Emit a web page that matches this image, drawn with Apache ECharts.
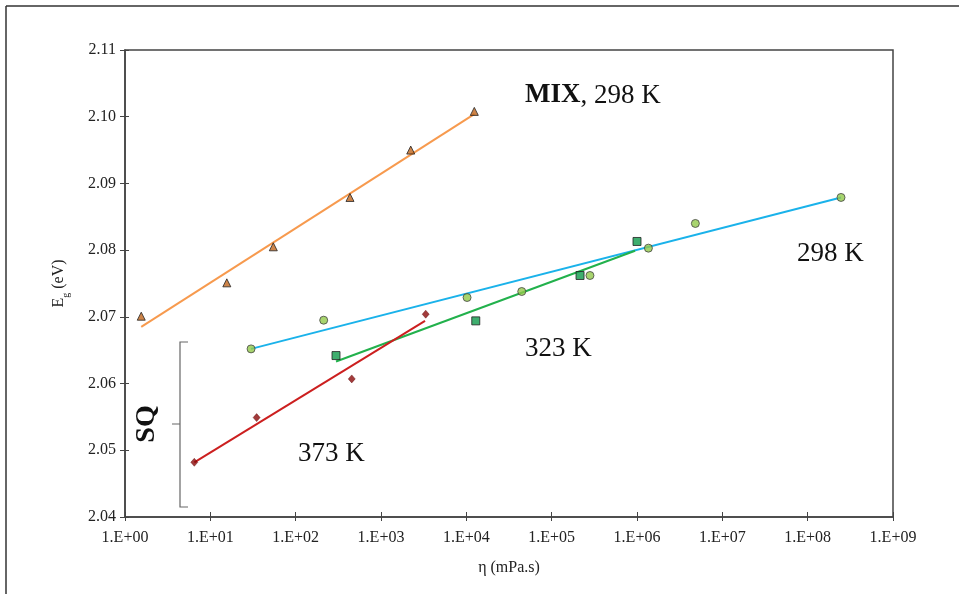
<!DOCTYPE html>
<html>
<head>
<meta charset="utf-8">
<script src="https://cdn.jsdelivr.net/npm/echarts/dist/echarts.min.js"></script>
<style>
html,body{margin:0;padding:0;background:#fff;}
#c{width:959px;height:594px;}
</style>
</head>
<body>
<div id="c"></div>
<script>
// ---- data ----
var mixX = [1.55, 15.6, 54.7, 433, 2230, 12400];
var mixY = [2.0701, 2.0751, 2.0805, 2.0879, 2.0950, 2.1008];
var mixFitX = [1.55, 12400];
var mixFitY = [2.0685, 2.1004];

var sq298X = [30, 213, 10200, 44600, 281000, 1.36e6, 4.83e6, 2.46e8];
var sq298Y = [2.0652, 2.0695, 2.0729, 2.0738, 2.0762, 2.0803, 2.0840, 2.0879];
var sq298FitX = [30, 2.46e8];
var sq298FitY = [2.0652, 2.0879];

var sq323X = [297, 12900, 215000, 1.0e6];
var sq323Y = [2.0642, 2.0694, 2.0762, 2.0813];
var sq323FitX = [297, 9.5e5];
var sq323FitY = [2.0633, 2.0799];

var sq373X = [6.49, 34.9, 454, 3340];
var sq373Y = [2.0482, 2.0549, 2.0607, 2.0704];
var sq373FitX = [6.49, 3280];
var sq373FitY = [2.0482, 2.0694];

var xTickExponents = [0, 1, 2, 3, 4, 5, 6, 7, 8, 9];
var yTicks = [2.04, 2.05, 2.06, 2.07, 2.08, 2.09, 2.10, 2.11];

function pairs(xs, ys) { return xs.map(function (x, i) { return [x, ys[i]]; }); }

var FONT = '"Liberation Serif", "DejaVu Serif", serif';
var chart = echarts.init(document.getElementById('c'));

var axisCommonX = {
  type: 'log', logBase: 10, min: 1, max: 1e9,
  splitLine: { show: false }, minorTick: { show: false }
};
var axisCommonY = {
  type: 'value', min: yTicks[0], max: yTicks[yTicks.length - 1], interval: 0.01,
  splitLine: { show: false }
};

var option = {
  backgroundColor: '#ffffff',
  animation: false,
  grid: { left: 125, right: 66, top: 50, bottom: 77, show: true, borderColor: '#444', borderWidth: 1.5, backgroundColor: '#fff' },
  xAxis: [
    Object.assign({}, axisCommonX, {
      name: 'η (mPa.s)', nameLocation: 'middle', nameGap: 43,
      nameTextStyle: { fontFamily: FONT, fontSize: 16, color: '#222' },
      axisLine: { show: true, lineStyle: { color: '#444', width: 1.5 } },
      axisTick: { show: true, inside: false, length: 4, lineStyle: { color: '#444' } },
      axisLabel: {
        fontFamily: FONT, fontSize: 16, color: '#222', margin: 13,
        formatter: function (v) {
          var e = Math.round(Math.log10(v));
          if (xTickExponents.indexOf(e) < 0) return '';
          return '1.E+' + (e < 10 ? '0' : '') + e;
        }
      }
    }),
    Object.assign({}, axisCommonX, {
      position: 'bottom',
      axisLine: { show: false },
      axisTick: { show: true, inside: true, length: 5, lineStyle: { color: '#444' } },
      axisLabel: { show: false }
    })
  ],
  yAxis: [
    Object.assign({}, axisCommonY, {
      name: '{a|E}{b|g}{a| (eV)}', nameLocation: 'middle', nameGap: 58, nameRotate: 90,
      nameTextStyle: {
        rich: {
          a: { fontFamily: FONT, fontSize: 16, color: '#222' },
          b: { fontFamily: FONT, fontSize: 10, color: '#222', verticalAlign: 'bottom', padding: [0, 0, -4, 0] }
        }
      },
      axisLine: { show: true, lineStyle: { color: '#444', width: 1.5 } },
      axisTick: { show: true, inside: false, length: 5, lineStyle: { color: '#444' } },
      axisLabel: {
        fontFamily: FONT, fontSize: 16, color: '#222', margin: 9,
        formatter: function (v) { return v.toFixed(2); }
      }
    }),
    Object.assign({}, axisCommonY, {
      position: 'left',
      axisLine: { show: false },
      axisTick: { show: true, inside: true, length: 4, lineStyle: { color: '#444' } },
      axisLabel: { show: false }
    })
  ],
  series: [
    { type: 'line', data: pairs(mixFitX, mixFitY), showSymbol: false, lineStyle: { color: '#F79A4E', width: 2 }, z: 2 },
    { type: 'line', data: pairs(sq298FitX, sq298FitY), showSymbol: false, lineStyle: { color: '#1AB2EA', width: 2 }, z: 2 },
    { type: 'line', data: pairs(sq323FitX, sq323FitY), showSymbol: false, lineStyle: { color: '#22B14C', width: 2 }, z: 2 },
    { type: 'line', data: pairs(sq373FitX, sq373FitY), showSymbol: false, lineStyle: { color: '#CC1F1F', width: 2 }, z: 2 },
    { type: 'scatter', data: pairs(mixX, mixY), symbol: 'triangle', symbolSize: 8,
      itemStyle: { color: '#C0651B', borderColor: '#222', borderWidth: 1 }, z: 3 },
    { type: 'scatter', data: pairs(sq298X, sq298Y), symbol: 'circle', symbolSize: 8,
      itemStyle: { color: '#92C94A', borderColor: '#444', borderWidth: 1 }, z: 3 },
    { type: 'scatter', data: pairs(sq323X, sq323Y), symbol: 'rect', symbolSize: 8,
      itemStyle: { color: '#0E9A4A', borderColor: '#222', borderWidth: 1 }, z: 3 },
    { type: 'scatter', data: pairs(sq373X, sq373Y), symbol: 'diamond', symbolSize: [7, 8],
      itemStyle: { color: '#8B0A0A', borderColor: '#5a0000', borderWidth: 0.5 }, z: 3 }
  ],
  graphic: [
    // outer frame (top and left)
    { type: 'line', shape: { x1: 6, y1: 6, x2: 959, y2: 6 }, style: { stroke: '#333', lineWidth: 1.5 } },
    { type: 'line', shape: { x1: 6, y1: 6, x2: 6, y2: 594 }, style: { stroke: '#333', lineWidth: 1.5 } },
    // SQ bracket
    { type: 'polyline', shape: { points: [[188, 342], [180, 342], [180, 424], [172, 424], [180, 424], [180, 507], [188, 507]] },
      style: { stroke: '#666', lineWidth: 1.2, fill: null } },
    { type: 'text', left: 525, top: 82, style: {
        text: '{b|MIX}{n|, 298 K}',
        rich: { b: { fontFamily: FONT, fontSize: 27, fontWeight: 'bold', fill: '#111' }, n: { fontFamily: FONT, fontSize: 27, fill: '#111' } } } },
    { type: 'text', left: 797, top: 240, style: { text: '298 K', font: '27px ' + FONT, fill: '#111' } },
    { type: 'text', left: 525, top: 335, style: { text: '323 K', font: '27px ' + FONT, fill: '#111' } },
    { type: 'text', left: 298, top: 440, style: { text: '373 K', font: '27px ' + FONT, fill: '#111' } },
    { type: 'text', x: 147, y: 424, rotation: Math.PI / 2, style: { text: 'SQ', font: 'bold 28px ' + FONT, fill: '#111', align: 'center', verticalAlign: 'middle' } }
  ]
};
chart.setOption(option);
</script>
</body>
</html>
